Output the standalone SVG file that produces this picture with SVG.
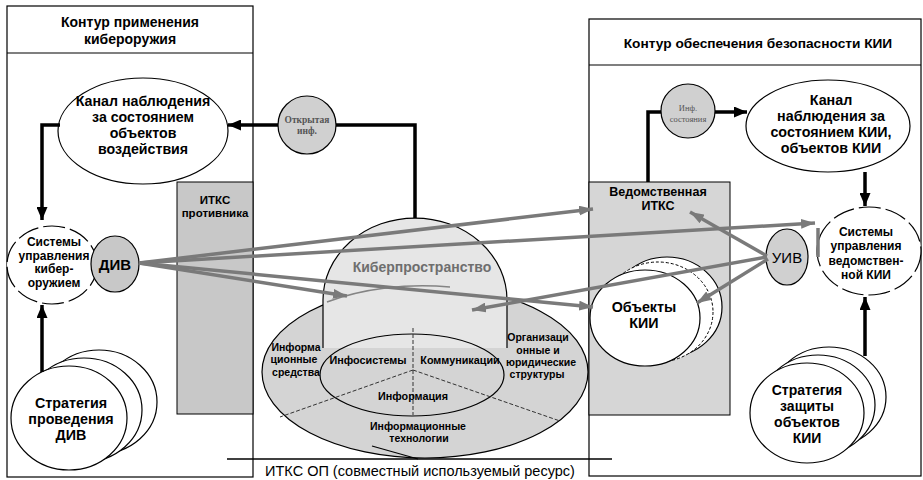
<svg xmlns="http://www.w3.org/2000/svg" width="923" height="480" viewBox="0 0 923 480">
<style>
text{font-family:"Liberation Sans","Arimo","DejaVu Sans",sans-serif;text-anchor:middle;fill:#000}
.b{font-weight:700}
.ser{font-family:"Liberation Serif","DejaVu Serif",serif;fill:#555}
.ln{fill:none;stroke:#000;stroke-width:1.2}
.wh{fill:#fff;stroke:#000;stroke-width:1.2}
.dash{fill:#fff;stroke:#000;stroke-width:1.2;stroke-dasharray:22 5}
.blk{fill:none;stroke:#000;stroke-width:3.5}
.gr{fill:none;stroke:#7a7a7a;stroke-width:3.5}
.dsh{fill:none;stroke:#333;stroke-width:1;stroke-dasharray:4 2}
</style>
<defs>
<marker id="ab" markerUnits="userSpaceOnUse" markerWidth="14" markerHeight="11" refX="13" refY="5.5" orient="auto"><path d="M0,0 L13,5.5 L0,11 z" fill="#000"/></marker>
<marker id="ag" markerUnits="userSpaceOnUse" markerWidth="15" markerHeight="10" refX="14" refY="5" orient="auto"><path d="M0,0 L14,5 L0,10 z" fill="#7a7a7a"/></marker>
</defs>

<!-- Left panel -->
<g id="left-panel">
<rect x="7" y="6" width="246" height="471" class="ln" fill="#fff"/>
<line x1="7" y1="53" x2="253" y2="53" stroke="#000" stroke-width="1.2"/>
<text class="b" x="130" y="27" font-size="14">Контур применения</text>
<text class="b" x="130" y="44" font-size="14">кибероружия</text>
</g>

<!-- Right panel -->
<g id="right-panel">
<rect x="589" y="19" width="332" height="457" class="ln" fill="#fff"/>
<line x1="589" y1="65" x2="921" y2="65" stroke="#000" stroke-width="1.2"/>
<text class="b" x="758" y="48" font-size="13.7">Контур обеспечения безопасности КИИ</text>
</g>

<g id="itks-protivnika">
<rect x="177" y="182" width="76" height="232" fill="#c8c8c8" stroke="#000" stroke-width="1"/>
<text class="b" x="215" y="204" font-size="11.5">ИТКС</text>
<text class="b" x="215" y="217" font-size="11.5">противника</text>
</g>

<g id="vedomstvennaya-itks">
<rect x="589" y="182" width="141" height="233" fill="#d6d6d6" stroke="#000" stroke-width="1"/>
<text class="b" x="658" y="196" font-size="12.5">Ведомственная</text>
<text class="b" x="658" y="210" font-size="12.5">ИТКС</text>
</g>

<!-- Shared resource -->
<g id="itks-op">
<ellipse cx="425" cy="372" rx="163" ry="86" fill="#d4d4d4" stroke="#000" stroke-width="1.2"/>
<path d="M323,348 L323,300 A92,82 0 0 1 507,300 L507,348 Z" fill="#e6e6e6"/>
<path d="M323,348 L323,300 A92,82 0 0 1 507,300 L507,348" class="ln"/>
<path d="M327,302 A163,86 0 0 1 450,287" fill="none" stroke="#333" stroke-width="1.5" opacity="0.55"/>
<ellipse cx="412" cy="375" rx="92" ry="41" class="ln"/>
<line x1="413" y1="328" x2="413" y2="415" class="dsh"/>
<line x1="413" y1="370" x2="280" y2="417" class="dsh"/>
<line x1="413" y1="370" x2="560" y2="421" class="dsh"/>
<line x1="372" y1="446" x2="418" y2="459" stroke="#000" stroke-width="1.2"/>
<line x1="227" y1="459" x2="612" y2="459" stroke="#000" stroke-width="1.5"/>
<text class="b" x="422" y="272" font-size="14" style="fill:#6e6e6e">Киберпространство</text>
<text class="b" x="296" y="351" font-size="10.5">Информа</text>
<text class="b" x="294" y="363" font-size="10.5">ционные</text>
<text class="b" x="296" y="376" font-size="10.5">средства</text>
<text class="b" x="368" y="364" font-size="10.8">Инфосистемы</text>
<text class="b" x="460" y="364" font-size="10.8">Коммуникации</text>
<text class="b" x="413" y="400" font-size="10.8">Информация</text>
<text class="b" x="538" y="341" font-size="10.5">Организаци</text>
<text class="b" x="538" y="354" font-size="10.5">онные и</text>
<text class="b" x="541" y="366" font-size="10.5">юридические</text>
<text class="b" x="537" y="378" font-size="10.5">структуры</text>
<text class="b" x="418" y="430" font-size="10.5">Информационные</text>
<text class="b" x="419" y="442" font-size="10.5">технологии</text>
<text x="420" y="476" font-size="14.5">ИТКС ОП (совместный используемый ресурс)</text>
</g>

<g id="kanal-left">
<ellipse cx="143" cy="131" rx="85" ry="53" class="wh"/>
<text class="b" x="143" y="106" font-size="14.2">Канал наблюдения</text>
<text class="b" x="143" y="122" font-size="14.2">за состоянием</text>
<text class="b" x="143" y="138" font-size="14.2">объектов</text>
<text class="b" x="143" y="154" font-size="14.2">воздействия</text>
</g>

<g id="sistemy-left">
<ellipse cx="52" cy="265" rx="45" ry="39" class="dash"/>
<text class="b" x="54" y="246" font-size="12">Системы</text>
<text class="b" x="54" y="259.5" font-size="12">управления</text>
<text class="b" x="54" y="273" font-size="12">кибер-</text>
<text class="b" x="54" y="286.5" font-size="12">оружием</text>
</g>

<g id="div">
<ellipse cx="115" cy="264" rx="24" ry="28" fill="#c8c8c8" stroke="#000" stroke-width="1.2"/>
<text class="b" x="115" y="270" font-size="15">ДИВ</text>
</g>

<g id="strategy-left">
<ellipse cx="99" cy="402" rx="58" ry="52" class="wh"/>
<ellipse cx="84" cy="410" rx="58" ry="52" class="wh"/>
<ellipse cx="69" cy="418" rx="58" ry="52" class="wh"/>
<text class="b" x="71" y="408" font-size="14.3">Стратегия</text>
<text class="b" x="71" y="424" font-size="14.3">проведения</text>
<text class="b" x="71" y="440" font-size="14.3">ДИВ</text>
</g>

<g id="otkrytaya-inf">
<circle cx="307" cy="125" r="29" fill="#d0d0d0" stroke="#000" stroke-width="1.2"/>
<text class="ser b" x="307" y="123" font-size="9.5">Открытая</text>
<text class="ser b" x="307" y="134" font-size="9.5">инф.</text>
</g>

<g id="inf-sostoyaniya">
<circle cx="688" cy="111" r="27" fill="#d0d0d0" stroke="#000" stroke-width="1.2"/>
<text class="ser" x="688" y="111" font-size="8.5">Инф.</text>
<text class="ser" x="688" y="122" font-size="8.5">состояния</text>
</g>

<g id="kanal-right">
<ellipse cx="828" cy="126" rx="82" ry="46" class="wh"/>
<text class="b" x="831" y="105" font-size="14.3">Канал</text>
<text class="b" x="831" y="121" font-size="14.3">наблюдения за</text>
<text class="b" x="831" y="137" font-size="14.3">состоянием КИИ,</text>
<text class="b" x="831" y="153" font-size="14.3">объектов КИИ</text>
</g>

<g id="sistemy-right">
<ellipse cx="869" cy="251" rx="52" ry="44" class="dash"/>
<text class="b" x="866" y="236" font-size="12">Системы</text>
<text class="b" x="866" y="250" font-size="12">управления</text>
<text class="b" x="866" y="265" font-size="12">ведомствен-</text>
<text class="b" x="866" y="279" font-size="12">ной КИИ</text>
</g>

<g id="obekty-kii">
<ellipse cx="667" cy="307" rx="55" ry="50" class="wh"/>
<ellipse cx="658" cy="312" rx="55" ry="50" fill="#fff" stroke="#000" stroke-width="1" stroke-dasharray="3 2"/>
<ellipse cx="645" cy="318" rx="55" ry="48" class="wh"/>
<text class="b" x="644" y="312" font-size="14.3">Объекты</text>
<text class="b" x="644" y="328" font-size="14.3">КИИ</text>
</g>

<g id="strategy-right">
<ellipse cx="829" cy="397" rx="57" ry="50" class="wh"/>
<ellipse cx="818" cy="405" rx="57" ry="50" class="wh"/>
<ellipse cx="807" cy="413" rx="57" ry="50" class="wh"/>
<text class="b" x="807" y="395" font-size="14">Стратегия</text>
<text class="b" x="807" y="411" font-size="14">защиты</text>
<text class="b" x="807" y="427" font-size="14">объектов</text>
<text class="b" x="807" y="443" font-size="14">КИИ</text>
</g>

<g id="uiv">
<ellipse cx="787" cy="257" rx="21" ry="28" fill="#d0d0d0" stroke="#000" stroke-width="1.2"/>
<text x="787" y="263" font-size="15">УИВ</text>
</g>

<g id="connectors">
<polyline points="415,218 415,125 336,125" class="blk"/>
<line x1="278" y1="125" x2="228" y2="125" class="blk" marker-end="url(#ab)"/>
<polyline points="60,125 42,125 42,220" class="blk" marker-end="url(#ab)"/>
<line x1="42" y1="372" x2="42" y2="305" class="blk" marker-end="url(#ab)"/>
<polyline points="648,182 648,112 661,112" class="blk"/>
<line x1="715" y1="112" x2="747" y2="112" class="blk" marker-end="url(#ab)"/>
<line x1="865" y1="172" x2="865" y2="206" class="blk" marker-end="url(#ab)"/>
<line x1="865" y1="356" x2="865" y2="297" class="blk" marker-end="url(#ab)"/>

<line x1="139" y1="263" x2="593" y2="209" class="gr" marker-end="url(#ag)"/>
<line x1="139" y1="263" x2="815" y2="223" class="gr" marker-end="url(#ag)"/>
<line x1="139" y1="263" x2="593" y2="307" class="gr" marker-end="url(#ag)"/>
<line x1="139" y1="263" x2="347" y2="296" class="gr" marker-end="url(#ag)"/>
<line x1="767" y1="256" x2="690" y2="212" class="gr" marker-end="url(#ag)"/>
<line x1="767" y1="257" x2="472" y2="310" class="gr" marker-end="url(#ag)"/>
<line x1="768" y1="259" x2="697" y2="303" class="gr" marker-end="url(#ag)"/>
<line x1="818" y1="257" x2="818" y2="228" class="gr"/>
</g>
</svg>
